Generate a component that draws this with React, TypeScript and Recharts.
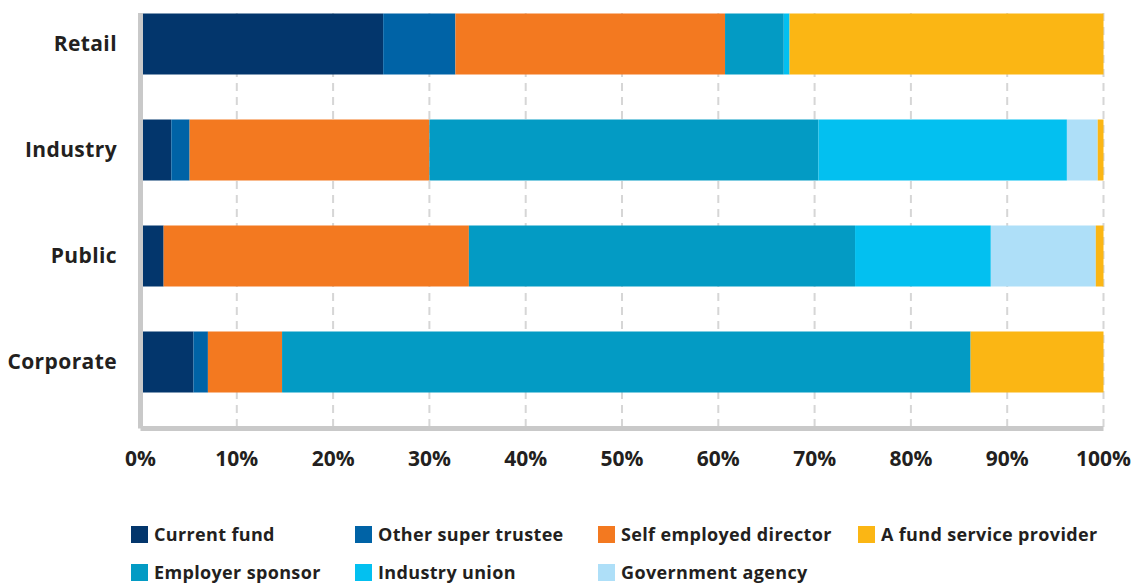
import { BarChart, Bar, XAxis, YAxis, CartesianGrid } from 'recharts';

const categories = ['Retail', 'Industry', 'Public', 'Corporate'];

// share of respondents (%) per fund type
const currentFund = [25.2, 3.2, 2.4, 5.5];
const otherSuperTrustee = [7.5, 1.9, 0, 1.5];
const selfEmployedDirector = [28.0, 24.9, 31.7, 7.7];
const employerSponsor = [6.1, 40.4, 40.1, 71.5];
const industryUnion = [0.6, 25.8, 14.1, 0];
const governmentAgency = [0, 3.2, 10.9, 0];
const fundServiceProvider = [32.6, 0.6, 0.8, 13.8];

const xTicks = [0, 10, 20, 30, 40, 50, 60, 70, 80, 90, 100];

// stacking order, left to right
const seriesNames = [
  'Current fund',
  'Other super trustee',
  'Self employed director',
  'Employer sponsor',
  'Industry union',
  'Government agency',
  'A fund service provider',
];
const seriesValues = [
  currentFund,
  otherSuperTrustee,
  selfEmployedDirector,
  employerSponsor,
  industryUnion,
  governmentAgency,
  fundServiceProvider,
];

const legendOrder = [
  'Current fund',
  'Other super trustee',
  'Self employed director',
  'A fund service provider',
  'Employer sponsor',
  'Industry union',
  'Government agency',
];

const colors: Record<string, string> = {
  'Current fund': '#03366c',
  'Other super trustee': '#0063a6',
  'Self employed director': '#f37920',
  'Employer sponsor': '#039bc4',
  'Industry union': '#03c0f0',
  'Government agency': '#aedff8',
  'A fund service provider': '#fbb614',
};

const chartData = categories.map((cat, i) => {
  const row: Record<string, string | number> = { category: cat };
  seriesNames.forEach((name, s) => {
    row[name] = seriesValues[s][i];
  });
  return row;
});

const FONT = '"Open Sans", sans-serif';
const TEXT = '#231f20';
const AXIS = '#c9c9c9';

function FundLegend() {
  const colLeft = [131, 355, 598, 858];
  return (
    <div style={{ position: 'absolute', left: 0, top: 0, width: 1137, height: 583, pointerEvents: 'none' }}>
      {legendOrder.map((name, i) => {
        const col = i % 4;
        const row = Math.floor(i / 4);
        return (
          <div
            key={name}
            style={{
              position: 'absolute',
              left: colLeft[col],
              top: 525 + row * 38,
              display: 'flex',
              alignItems: 'center',
              fontFamily: FONT,
              fontWeight: 700,
              fontSize: 18,
              letterSpacing: 0.35,
              color: TEXT,
              whiteSpace: 'nowrap',
            }}
          >
            <span style={{ width: 17, height: 17, background: colors[name], marginRight: 6, display: 'inline-block' }} />
            <span style={{ lineHeight: '19px' }}>{name}</span>
          </div>
        );
      })}
    </div>
  );
}

export default function App() {
  return (
    <div style={{ position: 'absolute', left: 0, top: 0, width: 1137, height: 583, background: '#fff' }}>
      <BarChart
        width={1137}
        height={583}
        data={chartData}
        layout="vertical"
        margin={{ top: 13, right: 33.5, bottom: 114.5, left: 0 }}
        barSize={61}
      >
        <CartesianGrid horizontal={false} stroke="#d6d6d6" strokeWidth={2} strokeDasharray="8 6" />
        <XAxis
          type="number"
          domain={[0, 100]}
          ticks={xTicks}
          tickFormatter={(v) => `${v}%`}
          height={40}
          tickSize={0}
          tickMargin={22.5}
          axisLine={{ stroke: AXIS, strokeWidth: 5 }}
          tick={{ fill: TEXT, fontSize: 21, fontWeight: 700, fontFamily: FONT }}
          interval={0}
        />
        <YAxis
          type="category"
          dataKey="category"
          width={140.5}
          tickSize={0}
          tickMargin={23.5}
          padding={{ top: -22.5, bottom: 14 }}
          axisLine={{ stroke: AXIS, strokeWidth: 5 }}
          tick={{ fill: TEXT, fontSize: 21, fontWeight: 700, fontFamily: FONT, letterSpacing: 0.4 }}
        />
        {seriesNames.map((name) => (
          <Bar
            key={name}
            dataKey={name}
            name={name}
            stackId="a"
            fill={colors[name]}
            isAnimationActive={false}
          />
        ))}
      </BarChart>
      <FundLegend />
    </div>
  );
}
